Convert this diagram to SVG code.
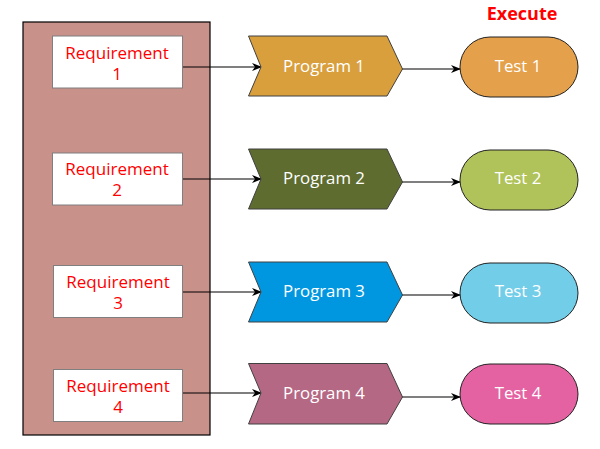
<svg xmlns="http://www.w3.org/2000/svg" width="600" height="449" viewBox="0 0 600 449">
<defs>
<marker id="arr" markerWidth="10" markerHeight="8" refX="9" refY="4" orient="auto" markerUnits="userSpaceOnUse">
<path d="M0,0 L10,4 L0,8 L3,4 Z" fill="#000"/>
</marker>
<style>
.req{fill:#fff;stroke:#7f7f7f;stroke-width:1}
.rt{font-family:"Open Sans","Liberation Sans",sans-serif;font-size:17px;fill:#ff0000;text-anchor:middle}
.wt{font-family:"Open Sans","Liberation Sans",sans-serif;font-size:16.8px;fill:#fff;text-anchor:middle}
.prog{stroke:#404040;stroke-width:1}
.test{stroke:#222;stroke-width:1}
.con{stroke:#000;stroke-width:1.2;fill:none;marker-end:url(#arr)}
</style>
</defs>
<rect width="600" height="449" fill="#fff"/>
<g id="container">
<rect x="23" y="22" width="187" height="413" fill="#c8918a" stroke="#000" stroke-width="1.2"/>
</g>
<g id="execute-label">
<text x="522" y="20" font-family="'Open Sans','Liberation Sans',sans-serif" font-size="18" font-weight="bold" fill="#ff0000" text-anchor="middle">Execute</text>
</g>
<g id="connectors">
<line class="con" x1="182" y1="67" x2="261" y2="67"/>
<line class="con" x1="182" y1="179" x2="261" y2="179"/>
<line class="con" x1="182" y1="292" x2="261" y2="292"/>
<line class="con" x1="182" y1="393" x2="261" y2="393"/>
<line class="con" x1="402" y1="69" x2="460" y2="69"/>
<line class="con" x1="402" y1="182" x2="460" y2="182"/>
<line class="con" x1="402" y1="295" x2="460" y2="295"/>
<line class="con" x1="402" y1="397" x2="460" y2="397"/>
</g>
<g id="req1"><rect class="req" x="52.5" y="36" width="130" height="52"/><text class="rt" x="117" y="59">Requirement</text><text class="rt" x="117" y="80">1</text></g>
<g id="req2"><rect class="req" x="52.5" y="153" width="130" height="52"/><text class="rt" x="117" y="175">Requirement</text><text class="rt" x="117" y="196">2</text></g>
<g id="req3"><rect class="req" x="53.5" y="265.5" width="129" height="52"/><text class="rt" x="118" y="288">Requirement</text><text class="rt" x="118" y="309">3</text></g>
<g id="req4"><rect class="req" x="53.5" y="369.5" width="129" height="52"/><text class="rt" x="118" y="392">Requirement</text><text class="rt" x="118" y="413">4</text></g>
<g id="prog1"><path class="prog" d="M248.5,36 L387,36 L402.5,69 L387,96 L248.5,96 L261,67 Z" fill="#d89f3c"/><text class="wt" x="324" y="72">Program 1</text></g>
<g id="prog2"><path class="prog" d="M248.5,149 L387,149 L402.5,182 L387,209 L248.5,209 L261,179 Z" fill="#5e6c2f"/><text class="wt" x="324" y="184">Program 2</text></g>
<g id="prog3"><path class="prog" d="M248.5,262 L387,262 L402.5,295 L387,322 L248.5,322 L261,292 Z" fill="#0097e0"/><text class="wt" x="324" y="297">Program 3</text></g>
<g id="prog4"><path class="prog" d="M248.5,363.5 L387,363.5 L402.5,397 L387,424 L248.5,424 L261,393 Z" fill="#b56884"/><text class="wt" x="324" y="399">Program 4</text></g>
<g id="test1"><rect class="test" x="460" y="37" width="118" height="60" rx="30" fill="#e4a04b"/><text class="wt" x="518" y="72">Test 1</text></g>
<g id="test2"><rect class="test" x="460" y="150" width="118" height="60" rx="30" fill="#b0c25a"/><text class="wt" x="518" y="184">Test 2</text></g>
<g id="test3"><rect class="test" x="460" y="263" width="118" height="60" rx="30" fill="#72cde8"/><text class="wt" x="518" y="297">Test 3</text></g>
<g id="test4"><rect class="test" x="460" y="364" width="118" height="60" rx="30" fill="#e462a2"/><text class="wt" x="518" y="399">Test 4</text></g>
</svg>
